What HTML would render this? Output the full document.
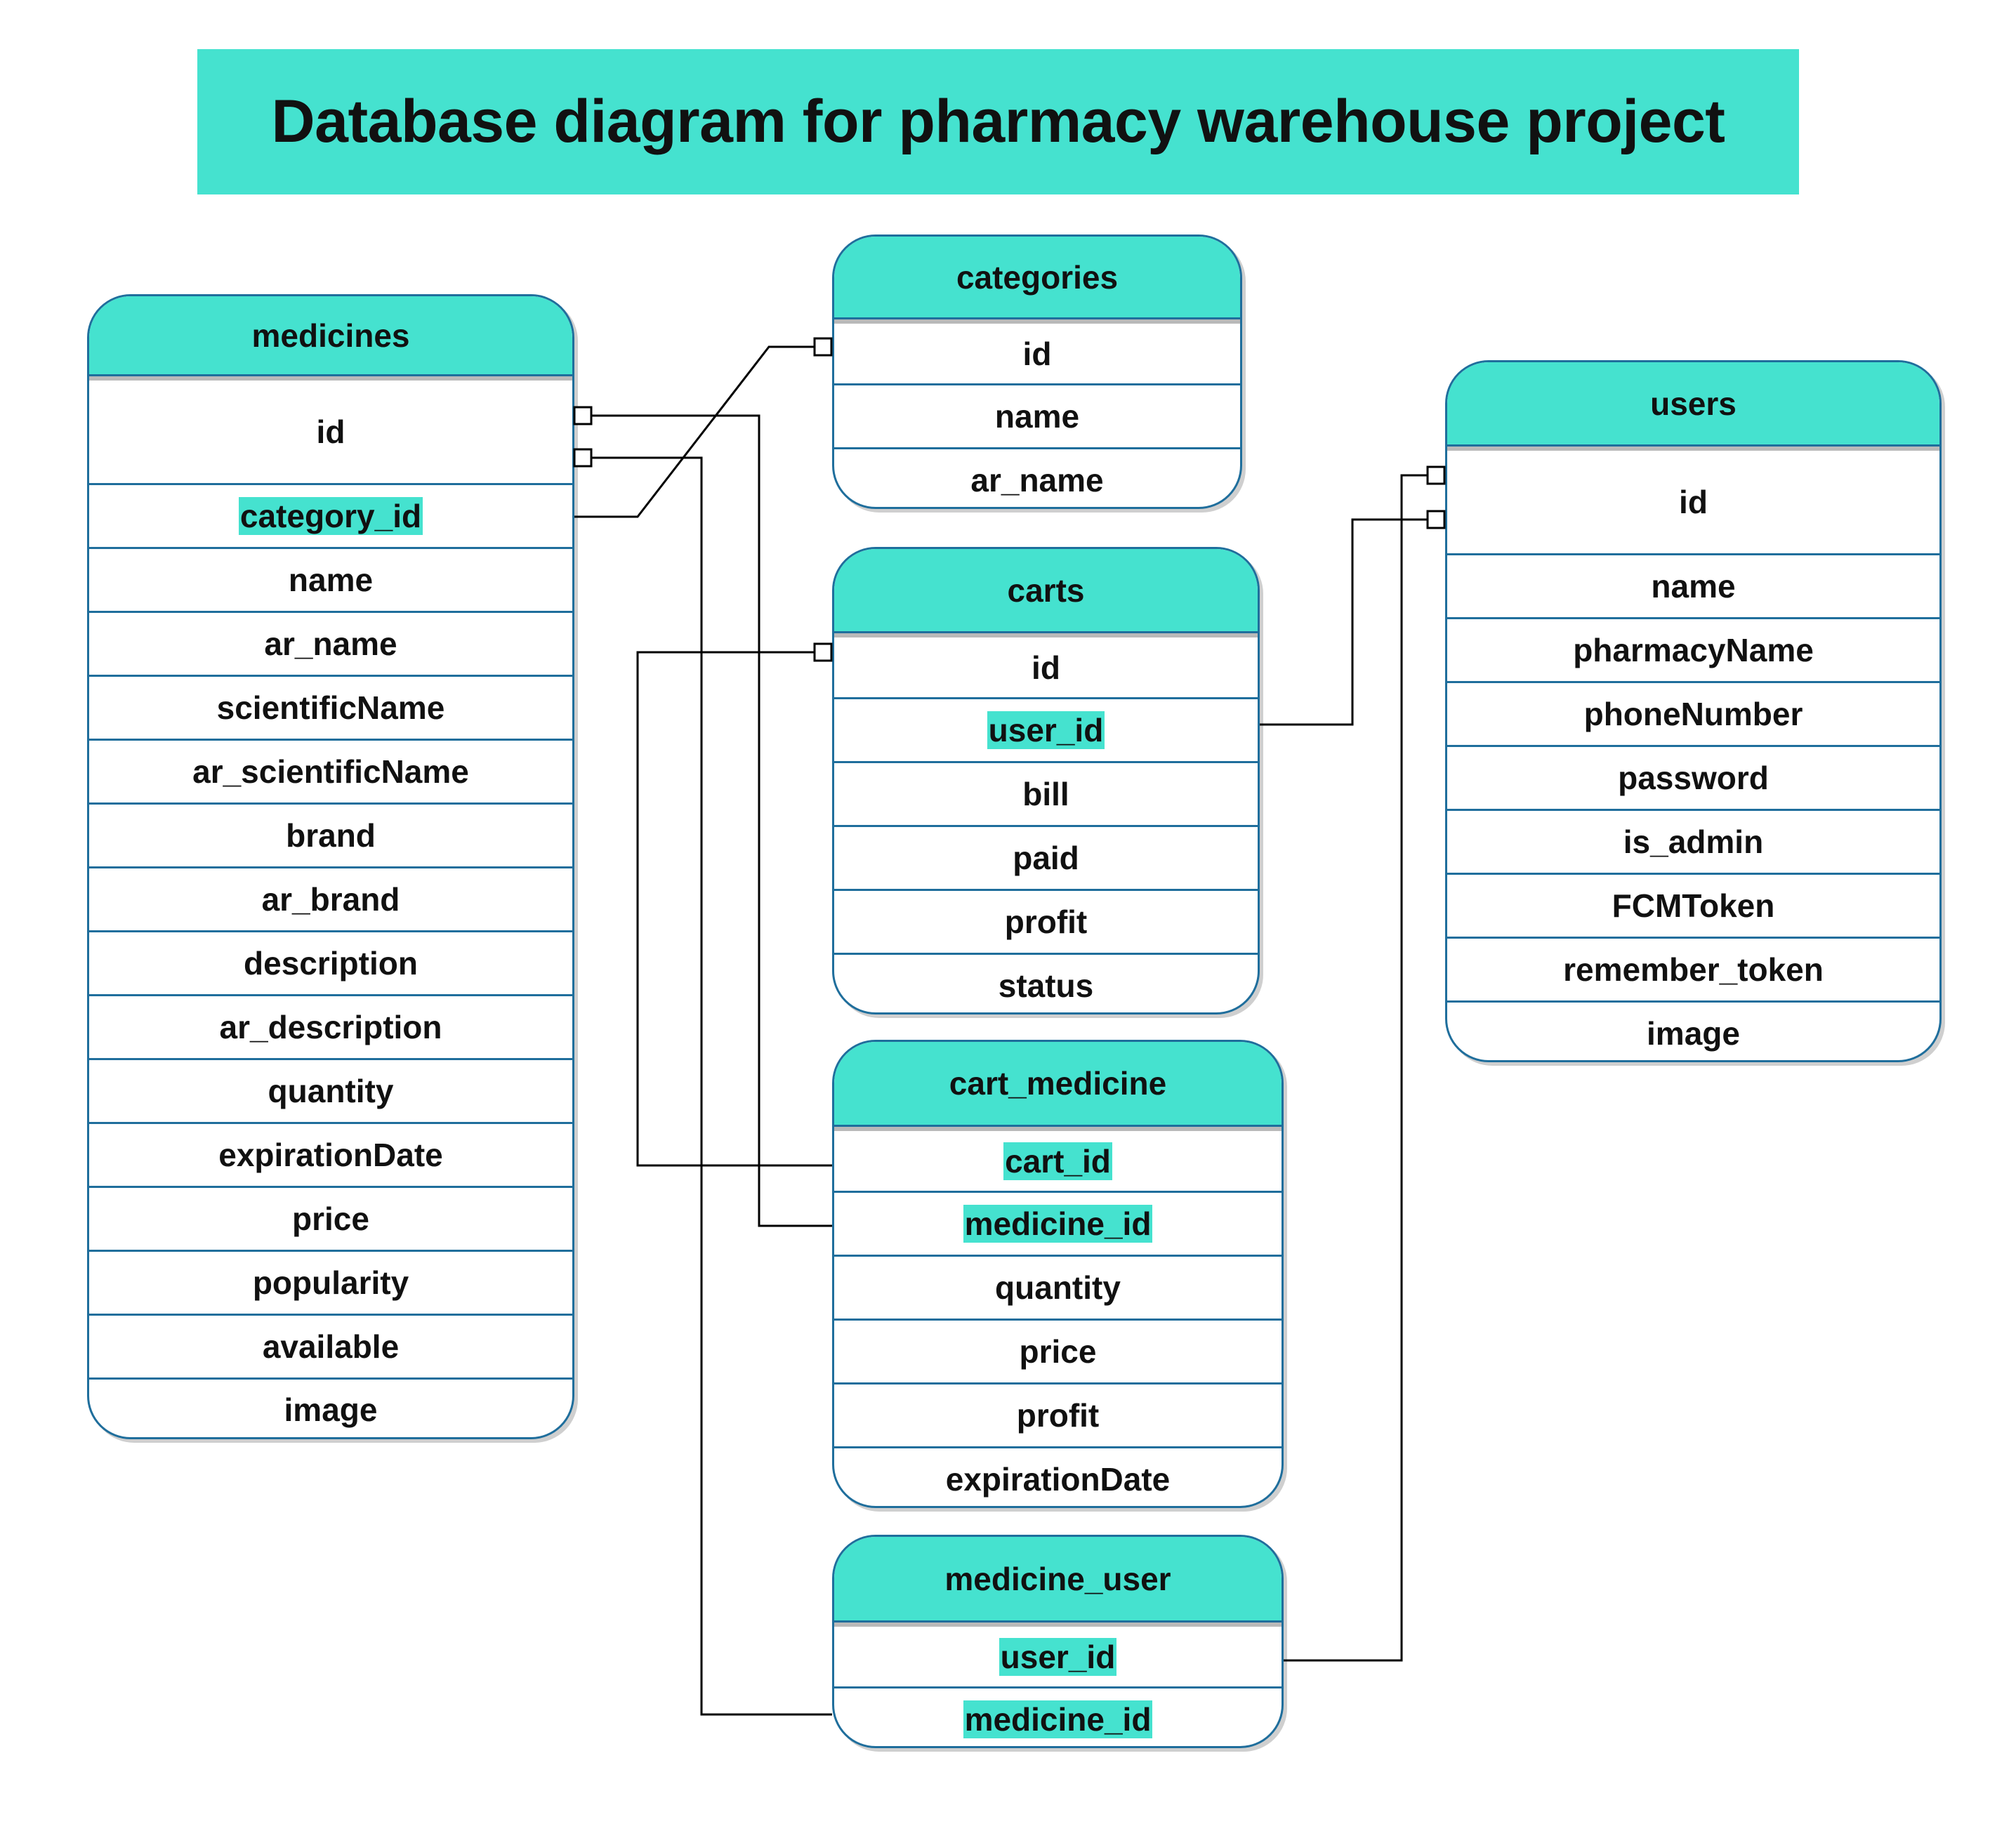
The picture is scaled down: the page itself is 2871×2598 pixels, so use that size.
<!DOCTYPE html>
<html><head><meta charset="utf-8">
<style>
html,body{margin:0;padding:0;background:#fff;}
body{width:2871px;height:2598px;position:relative;overflow:hidden;font-family:"Liberation Sans",Arial,sans-serif;font-weight:bold;color:#111;}
.title{position:absolute;left:281px;top:70px;width:2281px;height:207px;background:#45e2cf;display:flex;align-items:center;justify-content:center;font-size:86px;white-space:nowrap;letter-spacing:-0.5px;}
.t{position:absolute;box-sizing:border-box;border:3px solid #1f6e9c;border-radius:62px;overflow:hidden;background:#fff;box-shadow:5px 5px 0 0 #cfcfcf;}
.h{background:#45e2cf;display:flex;align-items:center;justify-content:center;font-size:46px;border-bottom:3px solid #1f6e9c;box-sizing:border-box;}
.r{display:flex;align-items:center;justify-content:center;font-size:46px;height:91px;box-sizing:border-box;border-top:3px solid #1f6e9c;}
.r.f{border-top:6px solid #b9b9b9;}
.hl{background:#45e2cf;padding:0 2px;}
svg{position:absolute;left:0;top:0;}
</style></head><body>
<div class="title">Database diagram for pharmacy warehouse project</div>

<div class="t" style="left:124px;top:419px;width:694px;height:1631px;">
<div class="h" style="height:114px;">medicines</div>
<div class="r f" style="height:152px;">id</div>
<div class="r"><span class="hl">category_id</span></div>
<div class="r">name</div><div class="r">ar_name</div><div class="r">scientificName</div><div class="r">ar_scientificName</div>
<div class="r">brand</div><div class="r">ar_brand</div><div class="r">description</div><div class="r">ar_description</div>
<div class="r">quantity</div><div class="r">expirationDate</div><div class="r">price</div><div class="r">popularity</div><div class="r">available</div><div class="r" style="height:88px">image</div>
</div>

<div class="t" style="left:1185px;top:334px;width:584px;height:391px;">
<div class="h" style="height:118px;">categories</div>
<div class="r f">id</div><div class="r">name</div><div class="r">ar_name</div>
</div>

<div class="t" style="left:1185px;top:779px;width:609px;height:666px;">
<div class="h" style="height:120px;">carts</div>
<div class="r f">id</div><div class="r"><span class="hl">user_id</span></div><div class="r">bill</div><div class="r">paid</div><div class="r">profit</div><div class="r">status</div>
</div>

<div class="t" style="left:1185px;top:1481px;width:643px;height:667px;">
<div class="h" style="height:121px;">cart_medicine</div>
<div class="r f"><span class="hl">cart_id</span></div><div class="r"><span class="hl">medicine_id</span></div><div class="r">quantity</div><div class="r">price</div><div class="r">profit</div><div class="r">expirationDate</div>
</div>

<div class="t" style="left:1185px;top:2186px;width:643px;height:304px;">
<div class="h" style="height:122px;">medicine_user</div>
<div class="r f"><span class="hl">user_id</span></div><div class="r"><span class="hl">medicine_id</span></div>
</div>

<div class="t" style="left:2058px;top:513px;width:707px;height:1000px;">
<div class="h" style="height:120px;">users</div>
<div class="r f" style="height:152px;">id</div>
<div class="r">name</div><div class="r">pharmacyName</div><div class="r">phoneNumber</div><div class="r">password</div><div class="r">is_admin</div><div class="r">FCMToken</div><div class="r">remember_token</div><div class="r">image</div>
</div>

<svg width="2871" height="2598" viewBox="0 0 2871 2598" fill="none" stroke="#000" stroke-width="3">
<!-- medicines id -> cart_medicine.medicine_id -->
<polyline points="842,592 1081,592 1081,1746 1185,1746"/>
<rect x="818" y="580" width="24" height="24" fill="#fff"/>
<!-- medicines id -> medicine_user.medicine_id -->
<polyline points="842,652 999,652 999,2442 1185,2442"/>
<rect x="818" y="640" width="24" height="24" fill="#fff"/>
<!-- category_id -> categories.id -->
<polyline points="818,736 908,736 1095,494 1160,494"/>
<rect x="1160" y="482" width="24" height="24" fill="#fff"/>
<!-- carts.id -> cart_medicine.cart_id -->
<polyline points="1160,929 908,929 908,1660 1185,1660"/>
<rect x="1160" y="917" width="24" height="24" fill="#fff"/>
<!-- carts.user_id -> users.id -->
<polyline points="1794,1032 1926,1032 1926,740 2033,740"/>
<rect x="2033" y="728" width="24" height="24" fill="#fff"/>
<!-- medicine_user.user_id -> users.id -->
<polyline points="1828,2365 1996,2365 1996,677 2033,677"/>
<rect x="2033" y="665" width="24" height="24" fill="#fff"/>
</svg>
</body></html>
